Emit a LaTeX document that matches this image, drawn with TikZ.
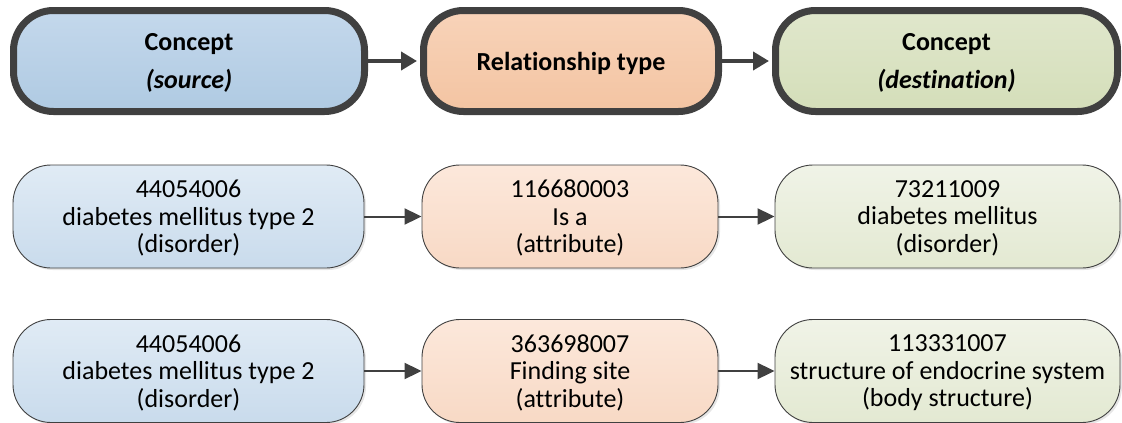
\documentclass[tikz,border=0pt]{standalone}
\usepackage{fontspec}
\setmainfont{Carlito}[Ligatures=CommonOff]
\usetikzlibrary{arrows.meta,shadows}

\definecolor{linegray}{HTML}{404040}
\definecolor{bluetop}{HTML}{C4D8EC}
\definecolor{bluebot}{HTML}{AFCAE2}
\definecolor{orangetop}{HTML}{F8D3B9}
\definecolor{orangebot}{HTML}{F3C4A2}
\definecolor{greentop}{HTML}{E0E7CC}
\definecolor{greenbot}{HTML}{D4DEB9}
\definecolor{lbluetop}{HTML}{E0EBF5}
\definecolor{lbluebot}{HTML}{C9DBEC}
\definecolor{lorangetop}{HTML}{FCE8DB}
\definecolor{lorangebot}{HTML}{F8D9C5}
\definecolor{lgreentop}{HTML}{F0F3E7}
\definecolor{lgreenbot}{HTML}{E3E9D2}

\tikzset{
  box/.style={draw=linegray, rounded corners=38pt, align=center, inner sep=0pt, text depth=0pt,
    drop shadow={opacity=0.2, shadow xshift=2pt, shadow yshift=-2pt}},
  headbox/.style={box, line width=7pt, rounded corners=40pt, minimum height=101pt,
    font=\fontsize{26}{38}\selectfont\bfseries},
  rowbox/.style={box, line width=0.9pt, minimum height=103pt,
    font=\fontsize{26}{27.5}\selectfont},
  bigarrow/.style={draw=linegray, line width=4.5pt, -{Triangle[length=16pt, width=18pt]}, shorten >=3pt},
  smallarrow/.style={draw=linegray, line width=2pt, -{Triangle[length=17pt, width=16pt]}}
}

\begin{document}
\begin{tikzpicture}[x=1pt, y=1pt]
  \useasboundingbox (0,0) rectangle (1122,-423);
  % header
  \node (src) [headbox, top color=bluetop, bottom color=bluebot, minimum width=351pt] at (189,-61) {Concept\\\textit{(source)}};
  \node (rel) [headbox, top color=orangetop, bottom color=orangebot, minimum width=295pt] at (571,-61) {Relationship type};
  \node (dst) [headbox, top color=greentop, bottom color=greenbot, minimum width=342pt] at (946.5,-61) {Concept\\\textit{(destination)}};
  \draw[bigarrow] (src) -- (rel);
  \draw[bigarrow] (rel) -- (dst);

  % is a
  \node (src1) [rowbox, top color=lbluetop, bottom color=lbluebot, minimum width=351pt] at (188.5,-216.5) {44054006\\diabetes mellitus type 2\\(disorder)};
  \node (rel1) [rowbox, top color=lorangetop, bottom color=lorangebot, minimum width=296pt] at (570,-216.5) {116680003\\Is a\\(attribute)};
  \node (dst1) [rowbox, top color=lgreentop, bottom color=lgreenbot, minimum width=345pt] at (947.5,-216.5) {73211009\\diabetes mellitus\\(disorder)};
  \draw[smallarrow] (src1) -- (rel1);
  \draw[smallarrow] (rel1) -- (dst1);

  % finding site
  \node (src2) [rowbox, top color=lbluetop, bottom color=lbluebot, minimum width=351pt] at (188.5,-371) {44054006\\diabetes mellitus type 2\\(disorder)};
  \node (rel2) [rowbox, top color=lorangetop, bottom color=lorangebot, minimum width=296pt] at (570,-371) {363698007\\Finding site\\(attribute)};
  \node (dst2) [rowbox, top color=lgreentop, bottom color=lgreenbot, minimum width=345pt] at (947.5,-371) {113331007\\structure of endocrine system\\(body structure)};
  \draw[smallarrow] (src2) -- (rel2);
  \draw[smallarrow] (rel2) -- (dst2);
\end{tikzpicture}
\end{document}
